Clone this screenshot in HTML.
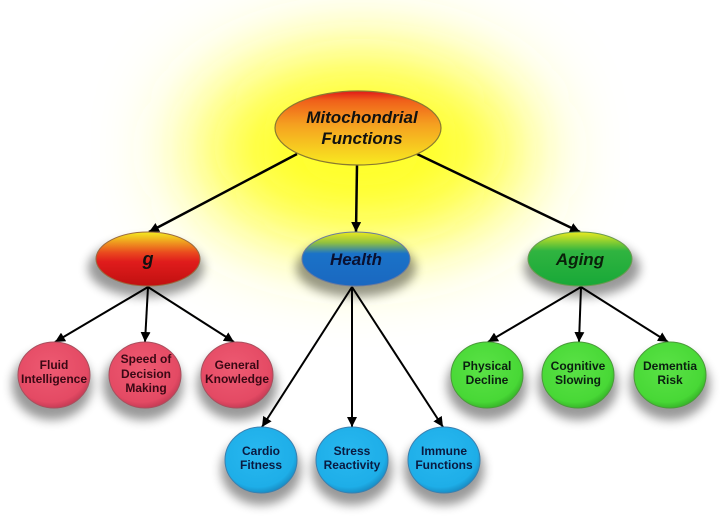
<!DOCTYPE html>
<html><head><meta charset="utf-8"><style>
html,body{margin:0;padding:0;background:#fff;}
svg{display:block;}
text{font-family:"Liberation Sans",Arial,sans-serif;font-weight:bold;}
</style></head><body>
<svg width="720" height="519" viewBox="0 0 720 519" xmlns="http://www.w3.org/2000/svg">
<defs>
  <filter id="glow" x="-100%" y="-100%" width="300%" height="300%"><feGaussianBlur stdDeviation="45"/></filter>
  <filter id="sh" x="-50%" y="-50%" width="200%" height="200%"><feGaussianBlur stdDeviation="5"/></filter>
  <linearGradient id="gMain" x1="0" y1="0" x2="0" y2="1">
    <stop offset="0" stop-color="#e01818"/><stop offset="0.13" stop-color="#f0601a"/>
    <stop offset="0.45" stop-color="#f5a020"/><stop offset="1" stop-color="#f8ea20"/>
  </linearGradient>
  <linearGradient id="gG" x1="0" y1="0" x2="0" y2="1">
    <stop offset="0" stop-color="#f4ec20"/><stop offset="0.38" stop-color="#ea4a1e"/>
    <stop offset="0.55" stop-color="#e01c1c"/><stop offset="1" stop-color="#c01010"/>
  </linearGradient>
  <linearGradient id="gH" x1="0" y1="0" x2="0" y2="1">
    <stop offset="0" stop-color="#eaea20"/><stop offset="0.2" stop-color="#90c040"/>
    <stop offset="0.4" stop-color="#1a72c8"/><stop offset="1" stop-color="#1a68c0"/>
  </linearGradient>
  <linearGradient id="gA" x1="0" y1="0" x2="0" y2="1">
    <stop offset="0" stop-color="#eaea20"/><stop offset="0.35" stop-color="#30b440"/>
    <stop offset="1" stop-color="#18a838"/>
  </linearGradient>
  <radialGradient id="rP" cx="0.45" cy="0.4" r="0.6">
    <stop offset="0" stop-color="#ee5a72"/><stop offset="0.85" stop-color="#e44a64"/><stop offset="1" stop-color="#c83c56"/>
  </radialGradient>
  <radialGradient id="rG" cx="0.45" cy="0.4" r="0.6">
    <stop offset="0" stop-color="#5ae246"/><stop offset="0.85" stop-color="#48d836"/><stop offset="1" stop-color="#38b82a"/>
  </radialGradient>
  <radialGradient id="rB" cx="0.45" cy="0.4" r="0.6">
    <stop offset="0" stop-color="#28b8f0"/><stop offset="0.85" stop-color="#1eaee8"/><stop offset="1" stop-color="#1890c8"/>
  </radialGradient>
  <marker id="ar" markerUnits="userSpaceOnUse" markerWidth="12" markerHeight="10" refX="10" refY="5" orient="auto">
    <path d="M0,0 L10,5 L0,10 Z" fill="#000"/>
  </marker>
</defs>

<!-- glow -->
<ellipse cx="360" cy="150" rx="170" ry="92" fill="#ffff30" filter="url(#glow)"/>
<ellipse cx="360" cy="145" rx="110" ry="60" fill="#ffff20" filter="url(#glow)" opacity="0.8"/>

<!-- shadows -->
<g fill="#000" opacity="0.4" filter="url(#sh)">
  <ellipse cx="146" cy="268" rx="58" ry="29"/>
  <ellipse cx="356" cy="268" rx="60" ry="29"/>
  <ellipse cx="582" cy="268" rx="58" ry="29"/>
  <ellipse cx="52" cy="385" rx="40" ry="35"/>
  <ellipse cx="143" cy="385" rx="40" ry="35"/>
  <ellipse cx="237" cy="385" rx="40" ry="35"/>
  <ellipse cx="487" cy="385" rx="40" ry="35"/>
  <ellipse cx="578" cy="385" rx="40" ry="35"/>
  <ellipse cx="670" cy="385" rx="40" ry="35"/>
  <ellipse cx="261" cy="470" rx="40" ry="35"/>
  <ellipse cx="352" cy="470" rx="40" ry="35"/>
  <ellipse cx="444" cy="470" rx="40" ry="35"/>
</g>

<!-- connectors -->
<g stroke="#000" stroke-width="2.5" fill="none" marker-end="url(#ar)">
  <line x1="297" y1="154" x2="149" y2="232"/>
  <line x1="357" y1="165" x2="356" y2="232"/>
  <line x1="417" y1="154" x2="580" y2="232"/>
</g>
<g stroke="#000" stroke-width="2" fill="none" marker-end="url(#ar)">
  <line x1="148" y1="287" x2="55" y2="342"/>
  <line x1="148" y1="287" x2="145" y2="342"/>
  <line x1="148" y1="287" x2="234" y2="342"/>
  <line x1="352" y1="287" x2="262" y2="427"/>
  <line x1="352" y1="287" x2="352" y2="427"/>
  <line x1="352" y1="287" x2="443" y2="427"/>
  <line x1="581" y1="287" x2="488" y2="342"/>
  <line x1="581" y1="287" x2="579" y2="342"/>
  <line x1="581" y1="287" x2="668" y2="342"/>
</g>

<!-- main -->
<ellipse cx="358" cy="128" rx="83" ry="37" fill="url(#gMain)" stroke="#8a7a30" stroke-width="1.2"/>
<text x="362" y="123" font-size="17" font-style="italic" text-anchor="middle" fill="#111">Mitochondrial</text>
<text x="362" y="144" font-size="17" font-style="italic" text-anchor="middle" fill="#111">Functions</text>

<!-- level 2 -->
<ellipse cx="148" cy="259" rx="52" ry="27" fill="url(#gG)" stroke="#9a6a40" stroke-width="1"/>
<text x="148" y="265" font-size="18" font-style="italic" text-anchor="middle" fill="#111">g</text>
<ellipse cx="356" cy="259" rx="54" ry="27" fill="url(#gH)" stroke="#6a7aa0" stroke-width="1"/>
<text x="356" y="265" font-size="17" font-style="italic" text-anchor="middle" fill="#0a1030">Health</text>
<ellipse cx="580" cy="259" rx="52" ry="27" fill="url(#gA)" stroke="#6a9a50" stroke-width="1"/>
<text x="580" y="265" font-size="17" font-style="italic" text-anchor="middle" fill="#0a200a">Aging</text>

<!-- pink -->
<g stroke="#a8505e" stroke-width="1">
  <ellipse cx="54" cy="375" rx="36" ry="33" fill="url(#rP)"/>
  <ellipse cx="145" cy="375" rx="36" ry="33" fill="url(#rP)"/>
  <ellipse cx="237" cy="375" rx="36" ry="33" fill="url(#rP)"/>
</g>
<g font-size="12" text-anchor="middle" fill="#3a0814">
  <text x="54" y="369">Fluid</text><text x="54" y="383">Intelligence</text>
  <text x="146" y="363">Speed of</text><text x="146" y="378">Decision</text><text x="146" y="392">Making</text>
  <text x="237" y="369">General</text><text x="237" y="383">Knowledge</text>
</g>

<!-- green -->
<g stroke="#4a9a3a" stroke-width="1">
  <ellipse cx="487" cy="375" rx="36" ry="33" fill="url(#rG)"/>
  <ellipse cx="578" cy="375" rx="36" ry="33" fill="url(#rG)"/>
  <ellipse cx="670" cy="375" rx="36" ry="33" fill="url(#rG)"/>
</g>
<g font-size="12" text-anchor="middle" fill="#0a2010">
  <text x="487" y="370">Physical</text><text x="487" y="384">Decline</text>
  <text x="578" y="370">Cognitive</text><text x="578" y="384">Slowing</text>
  <text x="670" y="370">Dementia</text><text x="670" y="384">Risk</text>
</g>

<!-- blue -->
<g stroke="#3a80b0" stroke-width="1">
  <ellipse cx="261" cy="460" rx="36" ry="33" fill="url(#rB)"/>
  <ellipse cx="352" cy="460" rx="36" ry="33" fill="url(#rB)"/>
  <ellipse cx="444" cy="460" rx="36" ry="33" fill="url(#rB)"/>
</g>
<g font-size="12" text-anchor="middle" fill="#0a1a40">
  <text x="261" y="455">Cardio</text><text x="261" y="469">Fitness</text>
  <text x="352" y="455">Stress</text><text x="352" y="469">Reactivity</text>
  <text x="444" y="455">Immune</text><text x="444" y="469">Functions</text>
</g>
</svg>
</body></html>
